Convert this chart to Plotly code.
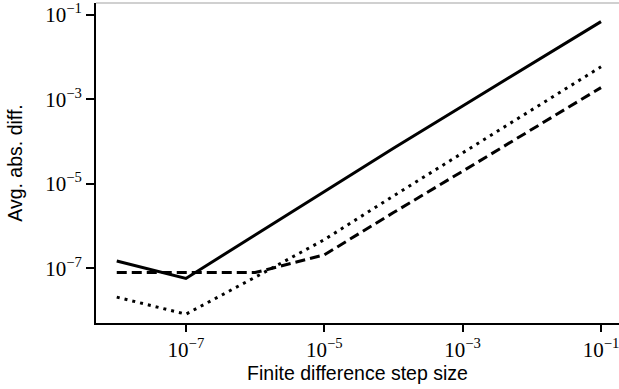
import plotly.graph_objects as go

step = [1e-8, 1e-7, 1e-6, 1e-5, 1e-4, 1e-3, 1e-2, 1e-1]
solid_vals = [1.5e-7, 5.8e-8, 6.2e-7, 6.6e-6, 7.0e-5, 7.0e-4, 7.0e-3, 6.9e-2]
dashed_vals = [8.0e-8, 8.0e-8, 8.0e-8, 2.1e-7, 2.1e-6, 2.0e-5, 1.95e-4, 1.9e-3]
dotted_vals = [2.1e-8, 8.3e-9, 6.2e-8, 4.8e-7, 5.2e-6, 5.5e-5, 5.7e-4, 5.9e-3]

x_ticks = [1e-7, 1e-5, 1e-3, 1e-1]
x_tick_text = ["10<sup>−7</sup>", "10<sup>−5</sup>", "10<sup>−3</sup>", "10<sup>−1</sup>"]
y_ticks = [1e-7, 1e-5, 1e-3, 1e-1]
y_tick_text = ["10<sup>−7</sup>", "10<sup>−5</sup>", "10<sup>−3</sup>", "10<sup>−1</sup>"]

fig = go.Figure()
fig.add_trace(go.Scatter(x=step, y=solid_vals, mode="lines",
                         line=dict(color="black", width=3)))
fig.add_trace(go.Scatter(x=step, y=dashed_vals, mode="lines",
                         line=dict(color="black", width=3, dash="10px,5px")))
fig.add_trace(go.Scatter(x=step, y=dotted_vals, mode="lines",
                         line=dict(color="black", width=3, dash="3px,5px")))

tickfont = dict(family="Liberation Serif", size=21, color="black")
titlefont = dict(family="Liberation Sans", size=19.5, color="black")

fig.update_layout(
    width=619, height=389,
    margin=dict(l=96, r=0, t=0, b=66),
    paper_bgcolor="white", plot_bgcolor="white",
    showlegend=False,
    xaxis=dict(type="log", range=[-8.3, -0.74], tickvals=x_ticks, ticktext=x_tick_text,
               showgrid=False, zeroline=False, showline=True, linecolor="black", linewidth=2,
               ticks="outside", ticklen=7, tickwidth=2, tickcolor="black", tickfont=tickfont,
               ticklabeloverflow="allow",
               title=dict(text="Finite difference step size", font=titlefont, standoff=0)),
    yaxis=dict(type="log", range=[-8.29, -0.72], tickvals=y_ticks, ticktext=y_tick_text,
               showgrid=False, zeroline=False, showline=True, linecolor="black", linewidth=2,
               ticks="outside", ticklen=8, tickwidth=2, tickcolor="black", tickfont=tickfont,
               ticklabeloverflow="allow",
               title=dict(text="Avg. abs. diff.", font=titlefont, standoff=17)),
    shapes=[dict(type="line", xref="paper", yref="paper", x0=0, x1=1, y0=1, y1=1,
                 line=dict(color="#d0d0d0", width=2))],
)

fig.write_html("out.html")
